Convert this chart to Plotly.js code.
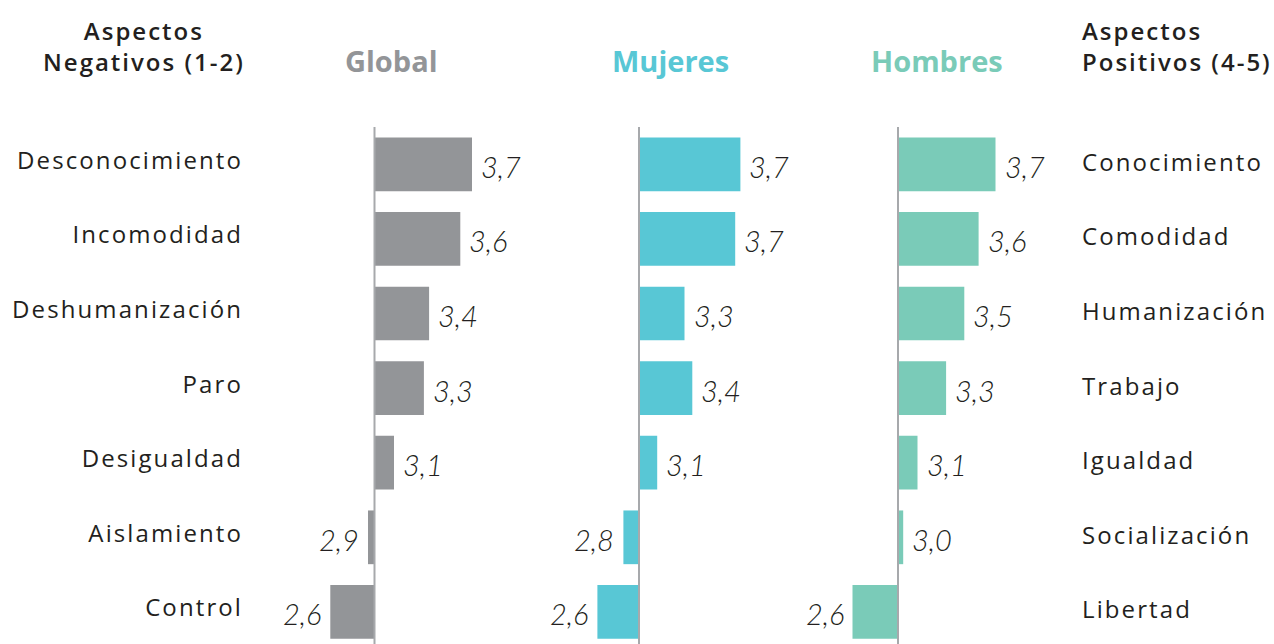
<!DOCTYPE html>
<html>
<head>
<meta charset="utf-8">
<script src="https://cdn.plot.ly/plotly-3.0.1.min.js"></script>
<style>
  html, body { margin: 0; padding: 0; background: #ffffff; }
  #chart { width: 1274px; height: 644px; }
  .ytick text, .y3tick text { letter-spacing: 2.1px; }
  .annotation[data-index="24"] text, .annotation[data-index="25"] text { letter-spacing: 2px; }
</style>
</head>
<body>
<div id="chart"></div>
<script>
// ---- Data ----
const categoriesNeg = ['Desconocimiento', 'Incomodidad', 'Deshumanización', 'Paro', 'Desigualdad', 'Aislamiento', 'Control'];
const categoriesPos = ['Conocimiento', 'Comodidad', 'Humanización', 'Trabajo', 'Igualdad', 'Socialización', 'Libertad'];
const seriesNames = ['Global', 'Mujeres', 'Hombres'];
const globalValues  = [3.70, 3.61, 3.37, 3.33, 3.10, 2.90, 2.61];
const mujeresValues = [3.73, 3.69, 3.30, 3.36, 3.09, 2.83, 2.63];
const hombresValues = [3.70, 3.57, 3.46, 3.32, 3.10, 2.99, 2.60];
const BASELINE = 2.95;
const headerNeg = 'Aspectos<br>Negativos (1-2)';
const headerPos = 'Aspectos<br>Positivos (4-5)';

// ---- Layout helpers (pixels -> paper) ----
const W = 1274, H = 644, T = 127, B = 0;
const S = 130; // px per unit
const px = p => p / W;
const py = p => (H - B - p) / (H - T - B);
function xAxisFor(d0, d1, zeroPx) {
  return {
    domain: [px(d0), px(d1)],
    range: [BASELINE + (d0 - zeroPx) / S, BASELINE + (d1 - zeroPx) / S],
    showgrid: false, zeroline: false, showline: false, showticklabels: false, ticks: '',
    fixedrange: true
  };
}
const FONT = '"Open Sans", Lato, sans-serif';
const NUMFONT = 'Lato, "Open Sans", sans-serif';
const TEXT = '#231F20';
const colors = ['#939598', '#58C7D5', '#7ACBB8'];
const panels = [
  { values: globalValues,  cats: categoriesNeg, xa: 'x',  ya: 'y',  d: [250, 560], zero: 374.5, center: 391 },
  { values: mujeresValues, cats: categoriesNeg, xa: 'x2', ya: 'y2', d: [570, 830], zero: 639,   center: 670 },
  { values: hombresValues, cats: categoriesPos, xa: 'x3', ya: 'y3', d: [840, 1073], zero: 898,  center: 937 }
];

const traces = panels.map((p, k) => ({
  type: 'bar',
  orientation: 'h',
  name: seriesNames[k],
  y: p.cats,
  x: p.values.map(v => v - BASELINE),
  base: BASELINE,
  width: 0.72,
  marker: { color: colors[k], line: { width: 0 } },
  xaxis: p.xa,
  yaxis: p.ya,
  hoverinfo: 'skip',
  showlegend: false
}));

const annotations = [];
const shapes = [];
panels.forEach((p, k) => {
  p.values.forEach((v, i) => {
    const pos = v >= BASELINE;
    annotations.push({
      x: v, y: p.cats[i], xref: p.xa, yref: p.ya,
      text: v.toFixed(1).replace('.', ','),
      showarrow: false,
      xanchor: pos ? 'left' : 'right',
      yanchor: 'middle',
      xshift: pos ? 7 : -7,
      yshift: -2,
      font: { family: NUMFONT, size: 29, style: 'italic', weight: 300, color: TEXT }
    });
  });
  shapes.push({
    type: 'line', xref: p.xa, yref: 'paper',
    x0: BASELINE, x1: BASELINE, y0: 0, y1: 1,
    line: { color: '#A7A9AC', width: 2 },
    layer: 'above'
  });
});
panels.forEach((p, k) => {
  annotations.push({
    x: px(p.center), y: py(60), xref: 'paper', yref: 'paper',
    text: seriesNames[k], showarrow: false,
    xanchor: 'center', yanchor: 'middle',
    font: { family: FONT, size: 29, weight: 700, color: colors[k] }
  });
});
annotations.push({
  x: px(144), y: py(46), xref: 'paper', yref: 'paper',
  text: headerNeg, showarrow: false, align: 'center',
  xanchor: 'center', yanchor: 'middle',
  font: { family: FONT, size: 24, weight: 600, color: TEXT }
});
annotations.push({
  x: px(1080), y: py(46), xref: 'paper', yref: 'paper',
  text: headerPos, showarrow: false, align: 'left',
  xanchor: 'left', yanchor: 'middle',
  font: { family: FONT, size: 24, weight: 600, color: TEXT }
});

const yBase = {
  type: 'category',
  range: [6.43, -0.5],
  domain: [0, 1],
  showgrid: false, zeroline: false, showline: false, ticks: '',
  fixedrange: true,
  tickfont: { family: FONT, size: 24, weight: 400, color: TEXT }
};

const layout = {
  width: W, height: H,
  margin: { l: 0, r: 0, t: T, b: B, pad: 0 },
  paper_bgcolor: '#ffffff', plot_bgcolor: 'rgba(0,0,0,0)',
  font: { family: FONT, color: TEXT },
  bargap: 0.28,
  xaxis: xAxisFor(panels[0].d[0], panels[0].d[1], panels[0].zero),
  xaxis2: xAxisFor(panels[1].d[0], panels[1].d[1], panels[1].zero),
  xaxis3: xAxisFor(panels[2].d[0], panels[2].d[1], panels[2].zero),
  yaxis: Object.assign({}, yBase, { anchor: 'x', categoryarray: categoriesNeg, categoryorder: 'array', ticklabelstandoff: 6, ticklabelshift: 4 }),
  yaxis2: Object.assign({}, yBase, { anchor: 'x2', categoryarray: categoriesNeg, categoryorder: 'array', showticklabels: false }),
  yaxis3: Object.assign({}, yBase, { anchor: 'x3', side: 'right', categoryarray: categoriesPos, categoryorder: 'array', ticklabelstandoff: 8, ticklabelshift: 2 }),
  shapes: shapes,
  annotations: annotations,
  showlegend: false
};

Plotly.newPlot('chart', traces, layout, { displayModeBar: false, staticPlot: true });
</script>
</body>
</html>
